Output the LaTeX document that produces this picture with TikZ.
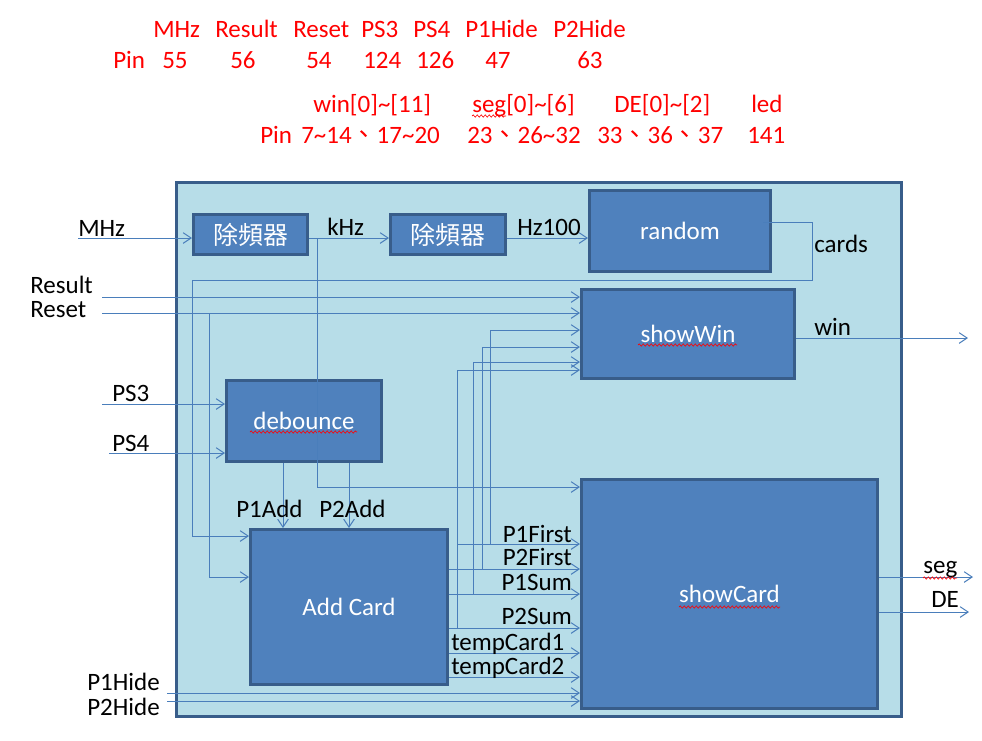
\documentclass[tikz,border=0pt]{standalone}
\usepackage{fontspec}
\setmainfont{Carlito}
\newfontfamily\cjk{Noto Sans CJK TC}
\usetikzlibrary{arrows.meta,decorations.pathmorphing}
\definecolor{bgblue}{HTML}{B7DDE8}
\definecolor{blkfill}{HTML}{4F81BD}
\definecolor{blkline}{HTML}{385D8A}
\definecolor{wirec}{HTML}{4A7EBB}
\begin{document}
\begin{tikzpicture}[x=0.75pt,y=-0.75pt,
  font=\fontsize{18.75}{22}\selectfont,
  blk/.style n args={2}{draw=blkline, line width=2.25pt, fill=blkfill, text=white,
     minimum width=#1*0.75pt, minimum height=#2*0.75pt, inner sep=0pt},
  wire/.style={draw=wirec, line width=0.75pt},
  arr/.style={wire, -{Straight Barb[length=6pt,width=8pt]}},
  lbl/.style={inner sep=0pt, text=black, anchor=base west},
  lble/.style={inner sep=0pt, text=black, anchor=base east},
  pinlbl/.style={inner sep=0pt, text=red, anchor=base west},
  squig/.style={draw=red, line width=0.5pt, decorate,
     decoration={snake, amplitude=0.8pt, segment length=3pt}}]
\useasboundingbox (0,0) rectangle (982,740);

% top pin table
\node[pinlbl] (t1) at (153,37) {MHz};
\node[pinlbl] (t2) at (215,37) {Result};
\node[pinlbl] (t3) at (293,37) {Reset};
\node[pinlbl] (t4) at (361,37) {PS3};
\node[pinlbl] (t5) at (413,37) {PS4};
\node[pinlbl] (t6) at (465,37) {P1Hide};
\node[pinlbl] (t7) at (553,37) {P2Hide};
\node[pinlbl] (p0) at (113,68) {Pin};
\node[pinlbl] (p1) at (162,68) {55};
\node[pinlbl] (p2) at (230,68) {56};
\node[pinlbl] (p3) at (306,68) {54};
\node[pinlbl] (p4) at (363,68) {124};
\node[pinlbl] (p5) at (416,68) {126};
\node[pinlbl] (p6) at (485,68) {47};
\node[pinlbl] (p7) at (577,68) {63};
\node[pinlbl] (o1) at (313,112) {win[0]\textasciitilde[11]};
\node[pinlbl] (o2) at (472,112) {seg[0]\textasciitilde[6]};
\node[pinlbl] (o3) at (614,112) {DE[0]\textasciitilde[2]};
\node[pinlbl] (o4) at (751,112) {led};
\node[pinlbl] (q0) at (260,143) {Pin};
\node[pinlbl] (q1) at (301,143) {7\textasciitilde14{\cjk 、}17\textasciitilde20};
\node[pinlbl] (q2) at (467,143) {23{\cjk 、}26\textasciitilde32};
\node[pinlbl] (q3) at (597,143) {33{\cjk 、}36{\cjk 、}37};
\node[pinlbl] (q4) at (747,143) {141};
\draw[squig] (472,116) -- (506,116);

% board
\node[draw=blkline, line width=2.25pt, fill=bgblue, inner sep=0pt,
  minimum width=725*0.75pt, minimum height=534*0.75pt] (board) at (539,449.5) {};

% blocks
\node[blk={114}{40}] (divA) at (250.5,234.5) {\cjk 除頻器};
\node[blk={115}{40}] (divB) at (448,234.5) {\cjk 除頻器};
\node[blk={181}{81}] (random) at (680,231) {random};
\node[blk={213}{89}] (showwin) at (688,334) {showWin};
\node[blk={155}{81}] (debounce) at (304,421) {debounce};
\node[blk={197}{155}] (addcard) at (349,607) {Add Card};
\node[blk={296}{229}] (showcard) at (729.5,594) {showCard};
\draw[squig] (250,432) -- (357,432);
\draw[squig] (638,345) -- (737,345);
\draw[squig] (679,607) -- (780,607);

% free ends
\coordinate (mhzin) at (78,238);
\coordinate (resultin) at (102,297);
\coordinate (resetin) at (102,313);
\coordinate (ps3in) at (102,404);
\coordinate (ps4in) at (109,453);
\coordinate (p1hin) at (167,693);
\coordinate (p2hin) at (167,701);
\coordinate (winout) at (968,338);
\coordinate (segout) at (973,577);
\coordinate (deout) at (969,612);

% wires
\draw[arr] (mhzin) -- (mhzin -| divA.west);
\draw[arr] (divA.east |- 0,238) -- (divB.west |- 0,238);
\draw[arr] (317,238) -- (317,487) -- (showcard.west |- 0,487);
\draw[arr] (divB.east |- 0,238) -- (random.west |- 0,238);
\draw[arr] (763,222) -- (812,222) -- (812,280) -- (192,280) -- (192,536) -- (addcard.west |- 0,536);
\draw[arr] (resultin) -- (showwin.west |- resultin);
\draw[arr] (resetin) -- (showwin.west |- resetin);
\draw[arr] (209,313) -- (209,577) -- (addcard.west |- 0,577);
\draw[arr] (ps3in) -- (debounce.west |- ps3in);
\draw[arr] (ps4in) -- (debounce.west |- ps4in);
\draw[arr] (debounce.south -| 283,0) -- (addcard.north -| 283,0);
\draw[arr] (debounce.south -| 349,0) -- (addcard.north -| 349,0);
\draw[arr] (457,544) -- (showcard.west |- 0,544);
\draw[arr] (addcard.east |- 0,569) -- (showcard.west |- 0,569);
\draw[arr] (addcard.east |- 0,594) -- (showcard.west |- 0,594);
\draw[arr] (addcard.east |- 0,628) -- (showcard.west |- 0,628);
\draw[arr] (addcard.east |- 0,653) -- (showcard.west |- 0,653);
\draw[arr] (addcard.east |- 0,677) -- (showcard.west |- 0,677);
\draw[arr] (490,544) -- (490,330) -- (showwin.west |- 0,330);
\draw[arr] (482,569) -- (482,347) -- (showwin.west |- 0,347);
\draw[arr] (473,594) -- (473,362) -- (showwin.west |- 0,362);
\draw[arr] (457,628) -- (457,370) -- (showwin.west |- 0,370);
\draw[arr] (p1hin) -- (showcard.west |- p1hin);
\draw[arr] (p2hin) -- (showcard.west |- p2hin);
\draw[arr] (showwin.east |- winout) -- (winout);
\draw[arr] (showcard.east |- segout) -- (segout);
\draw[arr] (showcard.east |- deout) -- (deout);

% labels
\node[lbl] (lmhz) at (78,236) {MHz};
\node[lbl] (lkhz) at (327,235) {kHz};
\node[lbl] (lhz) at (517,235) {Hz100};
\node[lbl] (lcards) at (814,252) {cards};
\node[lbl] (lresult) at (30,293) {Result};
\node[lbl] (lreset) at (30,317) {Reset};
\node[lbl] (lps3) at (112,401) {PS3};
\node[lbl] (lps4) at (112,451) {PS4};
\node[lbl] (lp1add) at (236,517) {P1Add};
\node[lbl] (lp2add) at (319,517) {P2Add};
\node[lbl] (lwin) at (814,335) {win};
\node[lbl] (lseg) at (923,573) {seg};
\node[lbl] (lde) at (931,607) {DE};
\draw[squig] (923,578) -- (957,578);
\node[lble] (lp1f) at (572,542) {P1First};
\node[lble] (lp2f) at (572,565) {P2First};
\node[lble] (lp1s) at (572,590) {P1Sum};
\node[lble] (lp2s) at (572,624) {P2Sum};
\node[lbl] (ltc1) at (451,650) {tempCard1};
\node[lbl] (ltc2) at (451,674) {tempCard2};
\node[lbl] (lp1h) at (87,690) {P1Hide};
\node[lbl] (lp2h) at (87,715) {P2Hide};
\end{tikzpicture}
\end{document}
